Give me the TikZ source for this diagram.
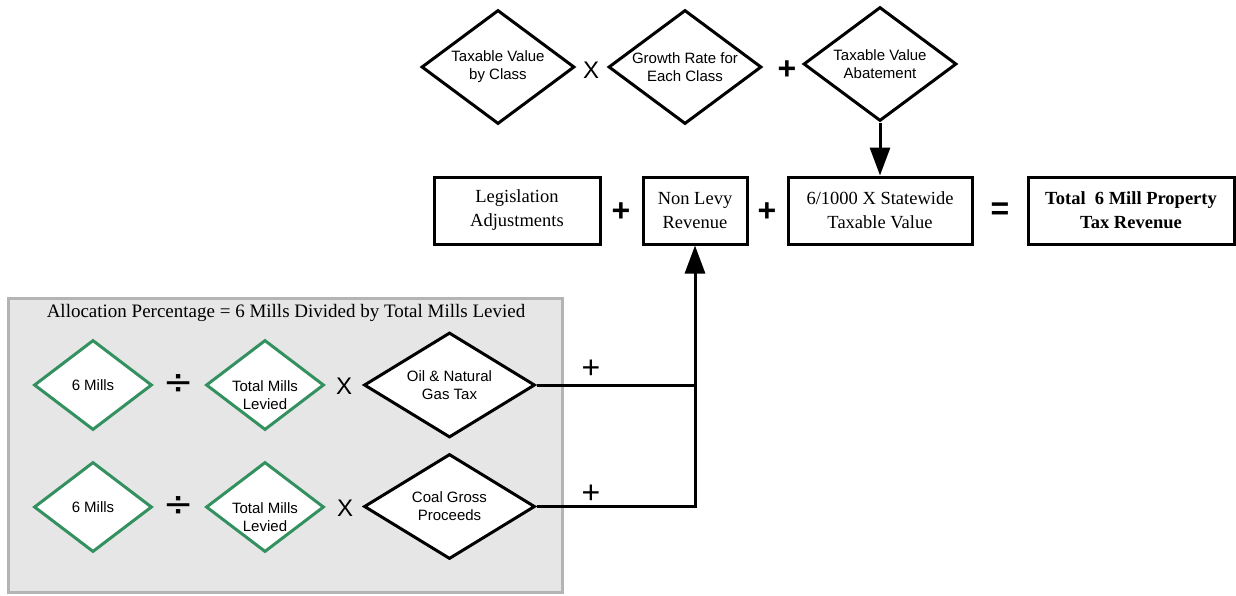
\documentclass[tikz,border=0pt]{standalone}
\usepackage{fontspec}
\setmainfont{Liberation Serif}
\setsansfont{Liberation Sans}
\newfontfamily\symfont{DejaVu Sans}
\usetikzlibrary{shapes.geometric,arrows.meta}
\definecolor{millgreen}{RGB}{51,145,95}
\definecolor{panelgray}{RGB}{230,230,230}
\definecolor{panelline}{RGB}{180,180,180}

\begin{document}
\begin{tikzpicture}[x=1pt, y=-1pt, line width=3pt,
    box/.style={draw, rectangle, minimum height=67pt, inner sep=0pt, align=center, font=\fontsize{18.5}{24}\selectfont},
    dia/.style={draw, diamond, aspect=1.33, inner sep=0pt, align=center, fill=white, font=\sffamily\fontsize{15}{18}\selectfont},
    bigdia/.style={dia, minimum width=153pt, minimum height=114pt},
    taxdia/.style={dia, minimum width=171pt, minimum height=105pt},
    mill/.style={dia, draw=millgreen, minimum width=118pt, minimum height=90pt},
    op/.style={inner sep=0pt, font=\sffamily\bfseries\fontsize{32}{32}\selectfont},
    times/.style={inner sep=0pt, font=\sffamily\fontsize{24}{24}\selectfont},
    plus/.style={inner sep=0pt, font=\sffamily\fontsize{32}{32}\selectfont},
    divide/.style={inner sep=0pt, font=\symfont\fontsize{36}{36}\selectfont},
    arr/.style={-{Triangle[length=28pt,width=20pt]}}]
  \useasboundingbox (0,0) rectangle (1236,595);

  % top row
  \node[bigdia] (tvc) at (498,67) {Taxable Value\\by Class};
  \node[times] (x1) at (591,70) {X};
  \node[bigdia] (grc) at (685,67) {Growth Rate for\\Each Class};
  \node[op] (p1) at (787,70) {+};
  \node[bigdia] (tva) at (880,64) {Taxable Value\\Abatement};

  % middle row
  \node[box, minimum width=166pt] (leg) at (517,210.5) {Legislation\\Adjustments};
  \node[op] (p2) at (621,212) {+};
  \node[box, minimum width=104pt] (nlr) at (695,210.5) {Non Levy\\Revenue};
  \node[op] (p3) at (767,212) {+};
  \node[box, minimum width=184pt] (stv) at (880,210.5) {6/1000 X Statewide\\Taxable Value};
  \node[op] (eq) at (1000,211) {=};
  \node[box, minimum width=206pt, font=\bfseries\fontsize{18.5}{24}\selectfont] (tot) at (1131,210.5) {Total\ \ 6 Mill Property\\Tax Revenue};

  \draw[arr] (tva.south) -- (stv.north);

  % allocation panel
  \draw[panelline, fill=panelgray] (8.5,298.5) rectangle (562.5,592.5);
  \node[font=\fontsize{19}{20}\selectfont] (title) at (286,313) {Allocation Percentage = 6 Mills Divided by Total Mills Levied};

  \node[mill] (six1) at (93,385) {6 Mills};
  \node[divide] (d1) at (179,385) {÷};
  \node[mill, label={[yshift=-10pt, align=center, font=\sffamily\fontsize{15}{18}\selectfont]center:Total Mills\\Levied}] (tml1) at (265,385) {};
  \node[times] (x2) at (344,386) {X};
  \node[taxdia] (oil) at (449.5,385) {Oil \& Natural\\Gas Tax};

  \node[mill] (six2) at (93,507) {6 Mills};
  \node[divide] (d2) at (179,507) {÷};
  \node[mill, label={[yshift=-10pt, align=center, font=\sffamily\fontsize{15}{18}\selectfont]center:Total Mills\\Levied}] (tml2) at (265,507) {};
  \node[times] (x3) at (345,508) {X};
  \node[taxdia] (coal) at (449.5,506.5) {Coal Gross\\Proceeds};

  % connectors to non levy revenue
  \draw (oil.east) -- (oil.east -| nlr.south);
  \draw[arr] (coal.east) -| (nlr.south);
  \node[plus] (p4) at (591,369) {+};
  \node[plus] (p5) at (591,494) {+};
\end{tikzpicture}
\end{document}
